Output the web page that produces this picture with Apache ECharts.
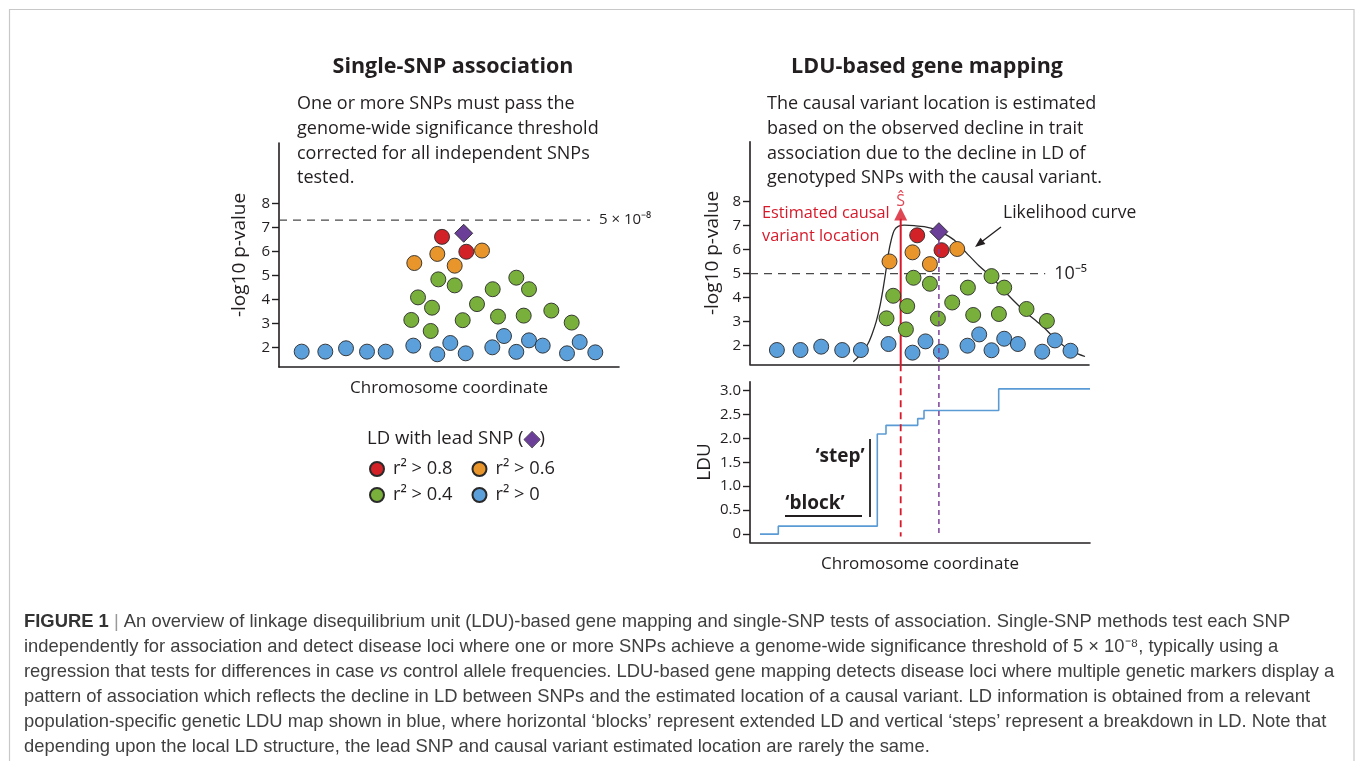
<!DOCTYPE html>
<html><head><meta charset="utf-8">
<script src="https://cdn.jsdelivr.net/npm/echarts@6/dist/echarts.min.js"></script>
<style>html,body{margin:0;padding:0;background:#fff}#c{width:1355px;height:761px}</style>
</head><body><div id="c"></div>
<script>
// ---- data (chromosome coordinate in arbitrary units, -log10 p) ----
const blueX   = [22.7,46.3,67,88,106.7,134.3,158.3,171.3,186.7,213.3,225,237.3,250,263.7,288,300.7,316.3];
const blueY   = [1.82,1.82,1.96,1.82,1.82,2.07,1.71,2.18,1.75,2.0,2.47,1.81,2.29,2.07,1.75,2.22,1.79];
const greenX  = [139,132.3,153,151.7,159.3,175.7,183.7,198,213.7,219,237.3,250,244.7,272.3,292.7];
const greenY  = [4.08,3.14,3.65,2.68,4.83,4.58,3.13,3.80,4.42,3.28,4.90,4.42,3.32,3.53,3.03];
const orangeX = [135.3,158.3,175.7,203];
const orangeY = [5.51,5.89,5.40,6.03];
const redX    = [163,187.3];
const redY    = [6.60,5.98];
const leadX   = [184.7];
const leadY   = [6.75];
const curveX  = [99.1,108,114,118,122,126,129,132,134.5,137,140,144,150,160,170,182,192,200,212,225,237,249,260,270,280,290,300,310,320,330.8];
const curveY  = [1.33,1.7,2.1,2.5,3.0,3.7,4.4,5.2,5.9,6.4,6.8,6.97,7.02,7.0,6.96,6.83,6.62,6.40,5.88,5.32,4.88,4.33,3.85,3.45,3.10,2.75,2.32,1.98,1.72,1.55];
const lduX    = [5.8,24.1,123.1,131.8,163.5,169.8,244.5,335.8];
const lduY    = [0,0.167,2.09,2.27,2.41,2.58,3.03,3.03];
const causalX = 146.5;
const causalArrowY = 7.49;
const gwasThreshold = 7.3;   // 5e-8
const ldThreshold = 5;       // 1e-5
const pTicks = [2,3,4,5,6,7,8];
const lduTicks = [0,0.5,1,1.5,2,2.5,3];
const legendNames = ['r² > 0.8','r² > 0.6','r² > 0.4','r² > 0'];

const FONT = '"Open Sans", sans-serif';
const CAP = '"Liberation Sans", Arial, sans-serif';
const INK = '#231f20';
const C = {blue:'#5b9fdb', green:'#79b03b', orange:'#e8952b', red:'#d32128', purple:'#6b3f97'};
const CRED = '#d7192a';

const pts = (xs, ys) => xs.map((x, i) => [x, ys[i]]);

function sc(name, xs, ys, color, idx, symbol, size) {
  return {type:'scatter', name, xAxisIndex:idx, yAxisIndex:idx, data:pts(xs, ys),
    symbol:symbol || 'circle', symbolSize:size || 15, z:5, silent:true,
    itemStyle:{color, borderColor:'#2a2a2a', borderWidth:0.9, opacity:1}};
}
function pointSeries(idx) {
  return [
    sc(legendNames[3], blueX, blueY, C.blue, idx),
    sc(legendNames[2], greenX, greenY, C.green, idx),
    sc(legendNames[1], orangeX, orangeY, C.orange, idx),
    sc(legendNames[0], redX, redY, C.red, idx),
    sc('lead SNP', leadX, leadY, C.purple, idx, 'diamond', 18)
  ];
}
const axisLine = {show:true, onZero:false, lineStyle:{color:INK, width:1.6}};
function yAx(idx, min, max, ticks, name, gap, fmt) {
  return {type:'value', gridIndex:idx, min, max, splitLine:{show:false}, axisLine,
    axisTick:{show:true, length:7, customValues:ticks, lineStyle:{color:INK, width:1.4}},
    axisLabel:{customValues:ticks, fontSize:15, color:INK, fontFamily:FONT, margin:9, formatter:fmt},
    name, nameLocation:'middle', nameRotate:90, nameGap:gap,
    nameTextStyle:{fontSize:19, color:INK, fontFamily:FONT}};
}
function xAx(idx, min, max, name) {
  return {type:'value', gridIndex:idx, min, max, splitLine:{show:false}, axisLine,
    axisTick:{show:false}, axisLabel:{show:false},
    name, nameLocation:'middle', nameGap:13,
    nameTextStyle:{fontSize:17, color:INK, fontFamily:FONT}};
}
function thresh(idx, x0, x1, y, label, fs) {
  return {type:'line', xAxisIndex:idx, yAxisIndex:idx, data:[[x0,y],[x1,y]], symbol:'none', silent:true, z:2,
    lineStyle:{color:'#4a4a4a', width:1.3, type:[8,6]},
    endLabel:{show:true, formatter:label, fontSize:fs, color:INK, fontFamily:FONT, distance:9}};
}
const legendBase = {selectedMode:false, icon:'circle', itemWidth:14, itemHeight:14, itemGap:19,
  textStyle:{fontSize:18.3, color:INK, fontFamily:FONT, padding:[0,0,0,4]}};

const option = {
  animation:false,
  grid:[
    {left:279, top:143, width:340, height:224},
    {left:750, top:141.7, width:339, height:222.6},
    {left:750, top:381.7, width:340, height:160.6}
  ],
  xAxis:[ xAx(0, 0, 340, 'Chromosome coordinate'), xAx(1, -4.2, 334.8, ''), xAx(2, -4.2, 335.8, 'Chromosome coordinate') ],
  yAxis:[
    yAx(0, 1.18, 10.51, pTicks, '-log10 p-value', 30),
    yAx(1, 1.225, 10.5, pTicks, '-log10 p-value', 28),
    yAx(2, -0.17, 3.18, lduTicks, 'LDU', 36, v => v === 0 ? '0' : v.toFixed(1))
  ],
  legend:[
    Object.assign({data:legendNames.slice(0,2), left:364, top:455}, legendBase),
    Object.assign({data:legendNames.slice(2,4), left:364, top:481}, legendBase)
  ],
  series:[
    thresh(0, 0, 311, gwasThreshold, '5 × 10⁻⁸', 15),
    ...pointSeries(0),
    thresh(1, -4.2, 291, ldThreshold, '10⁻⁵', 18),
    {type:'line', xAxisIndex:1, yAxisIndex:1, data:pts(curveX, curveY), smooth:0.3,
      symbol:'none', silent:true, z:3, lineStyle:{color:'#2a2a2a', width:1.3}},
    {type:'line', xAxisIndex:1, yAxisIndex:1, data:[[causalX,1.225],[causalX,causalArrowY-0.2]], symbol:'none',
      silent:true, z:4, lineStyle:{color:CRED, width:2}},
    {type:'scatter', xAxisIndex:1, yAxisIndex:1, data:[[causalX,causalArrowY]], symbol:'triangle', symbolSize:[13,13],
      silent:true, z:6, itemStyle:{color:CRED},
      label:{show:true, position:'top', distance:-2, formatter:'Ŝ', color:CRED, fontSize:16, fontFamily:FONT}},
    ...pointSeries(1),
    {type:'line', xAxisIndex:2, yAxisIndex:2, data:pts(lduX, lduY), step:'end', symbol:'none', silent:true,
      lineStyle:{color:'#5b9bd5', width:1.6}}
  ]
};

const chart = echarts.init(document.getElementById('c'), null, {renderer:'canvas'});
chart.setOption(option);

const px = (g, p) => chart.convertToPixel({gridIndex:g}, p);
const r0 = px(1, [causalX, 1.225]), r1 = px(2, [causalX, -0.05]);
const l0 = px(1, [leadX[0], leadY[0] - 0.35]), l1 = px(2, [leadX[0], -0.05]);

function txt(x, y, text, o) {
  o = o || {};
  return {type:'text', x, y, silent:true, z:10, style:Object.assign({text, fill:INK, fontFamily:FONT, fontSize:18,
    align:'left', verticalAlign:'middle'}, o)};
}
const CFS = 18.4;
const capRich = {b:{fontWeight:'bold', fontFamily:CAP, fontSize:CFS, fill:'#333'}, g:{fill:'#999', fontFamily:CAP, fontSize:CFS},
  i:{fontStyle:'italic', fontFamily:CAP, fontSize:CFS, fill:'#404040'}};
const capLines = [
  '{b|FIGURE 1} {g||} An overview of linkage disequilibrium unit (LDU)-based gene mapping and single-SNP tests of association. Single-SNP methods test each SNP',
  'independently for association and detect disease loci where one or more SNPs achieve a genome-wide significance threshold of 5 × 10⁻⁸, typically using a',
  'regression that tests for differences in case {i|vs} control allele frequencies. LDU-based gene mapping detects disease loci where multiple genetic markers display a',
  'pattern of association which reflects the decline in LD between SNPs and the estimated location of a causal variant. LD information is obtained from a relevant',
  'population-specific genetic LDU map shown in blue, where horizontal ‘blocks’ represent extended LD and vertical ‘steps’ represent a breakdown in LD. Note that',
  'depending upon the local LD structure, the lead SNP and causal variant estimated location are rarely the same.'
];

const graphic = [
  {type:'rect', silent:true, shape:{x:9.5, y:9.5, width:1344.5, height:800}, style:{fill:'none', stroke:'#c8c8c8', lineWidth:1.2}},
  txt(453, 67, 'Single-SNP association', {fontWeight:'bold', fontSize:21.5, align:'center'}),
  txt(927, 67, 'LDU-based gene mapping', {fontWeight:'bold', fontSize:21.5, align:'center'}),
  txt(297, 92, 'One or more SNPs must pass the\ngenome-wide significance threshold\ncorrected for all independent SNPs\ntested.', {verticalAlign:'top', lineHeight:24.6}),
  txt(767, 92, 'The causal variant location is estimated\nbased on the observed decline in trait\nassociation due to the decline in LD of\ngenotyped SNPs with the causal variant.', {verticalAlign:'top', lineHeight:24.6}),
  txt(367, 439, 'LD with lead SNP ({d|◆})', {fontSize:18.5, rich:{d:{fill:C.purple, fontSize:21, stroke:'#222', lineWidth:0.8}}}),
  txt(762, 213, 'Estimated causal', {fontSize:16.3, fill:CRED}),
  txt(762, 236, 'variant location', {fontSize:16.3, fill:CRED}),
  txt(1003, 213, 'Likelihood curve', {fontSize:17.5}),
  {type:'line', silent:true, z:10, shape:{x1:1001, y1:227, x2:980, y2:243}, style:{stroke:INK, lineWidth:1.3}},
  {type:'polygon', silent:true, z:10, shape:{points:[[975,247],[985.4,244.1],[980.5,237.8]]}, style:{fill:INK}},
  {type:'line', silent:true, z:10, shape:{x1:r0[0], y1:r0[1], x2:r1[0], y2:r1[1]}, style:{stroke:CRED, lineWidth:1.8, lineDash:[7,5]}},
  {type:'line', silent:true, z:10, shape:{x1:l0[0], y1:l0[1], x2:l1[0], y2:l1[1]}, style:{stroke:'#7d4199', lineWidth:1.5, lineDash:[5,4]}},
  txt(815, 504, '‘block’', {fontWeight:'bold', fontSize:19, align:'center'}),
  {type:'line', silent:true, z:10, shape:{x1:785, y1:516, x2:862, y2:516}, style:{stroke:INK, lineWidth:1.8}},
  txt(840, 457, '‘step’', {fontWeight:'bold', fontSize:19, align:'center'}),
  {type:'line', silent:true, z:10, shape:{x1:870, y1:439, x2:870, y2:517}, style:{stroke:INK, lineWidth:1.8}}
];
capLines.forEach((t, i) => graphic.push(txt(24, 622 + i * 24.9, t,
  {fontFamily:CAP, fontSize:CFS, fill:'#404040', rich:capRich})));

chart.setOption({graphic});
</script></body></html>
